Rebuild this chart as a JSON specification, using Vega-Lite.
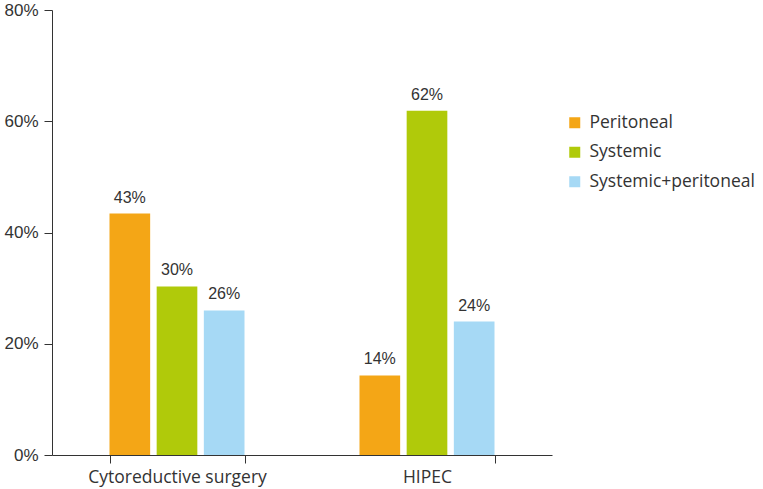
{
  "$schema": "https://vega.github.io/schema/vega-lite/v6.json",
  "width": 500,
  "height": 445,
  "autosize": {"type": "none"},
  "padding": {"left": 52, "top": 10, "right": 211, "bottom": 34},
  "background": "white",
  "config": {"view": {"stroke": null}},
  "data": {
    "values": [
      {"procedure": "Cytoreductive surgery", "site": "Peritoneal", "value": 0.434},
      {"procedure": "Cytoreductive surgery", "site": "Systemic", "value": 0.303},
      {"procedure": "Cytoreductive surgery", "site": "Systemic+peritoneal", "value": 0.26},
      {"procedure": "HIPEC", "site": "Peritoneal", "value": 0.143},
      {"procedure": "HIPEC", "site": "Systemic", "value": 0.619},
      {"procedure": "HIPEC", "site": "Systemic+peritoneal", "value": 0.24}
    ]
  },
  "encoding": {
    "x": {
      "field": "procedure",
      "type": "nominal",
      "sort": null,
      "title": null,
      "scale": {"paddingInner": 0.46, "paddingOuter": 0.23},
      "axis": {
        "labelAngle": 0,
        "labelFont": "Open Sans",
        "labelFontSize": 17.5,
        "labelLimit": 400,
        "labelColor": "#333333",
        "labelPadding": 5,
        "domainColor": "#333333",
        "tickColor": "#333333",
        "tickSize": 8,
        "tickBand": "extent",
        "domainWidth": 1,
        "grid": false
      }
    },
    "xOffset": {
      "field": "site",
      "type": "nominal",
      "sort": null,
      "scale": {"paddingInner": 0.138, "paddingOuter": 0}
    },
    "y": {
      "field": "value",
      "type": "quantitative",
      "title": null,
      "scale": {"domain": [0, 0.8], "nice": false},
      "axis": {
        "format": ".0%",
        "values": [0, 0.2, 0.4, 0.6, 0.8],
        "grid": false,
        "labelFont": "Liberation Sans",
        "labelFontSize": 17,
        "labelColor": "#333333",
        "labelPadding": 6,
        "domainColor": "#333333",
        "tickColor": "#333333",
        "tickSize": 8
      }
    }
  },
  "layer": [
    {
      "mark": {"type": "bar"},
      "encoding": {
        "color": {
          "field": "site",
          "type": "nominal",
          "sort": null,
          "scale": {
            "domain": ["Peritoneal", "Systemic", "Systemic+peritoneal"],
            "range": ["#F4A616", "#B0CA0A", "#A6D9F5"]
          },
          "legend": {
            "title": null,
            "orient": "none",
            "legendX": 514,
            "legendY": 104,
            "symbolType": "square",
            "symbolSize": 121,
            "symbolStrokeWidth": 0,
            "labelFont": "Open Sans",
            "labelFontSize": 17.5,
            "labelLimit": 400,
            "labelColor": "#333333",
            "labelOffset": 6,
            "rowPadding": 10.5
          }
        }
      }
    },
    {
      "mark": {
        "type": "text",
        "baseline": "alphabetic",
        "dy": -11,
        "font": "Liberation Sans",
        "fontSize": 16,
        "color": "#333333"
      },
      "encoding": {
        "text": {"field": "value", "type": "quantitative", "format": ".0%"}
      }
    }
  ]
}
